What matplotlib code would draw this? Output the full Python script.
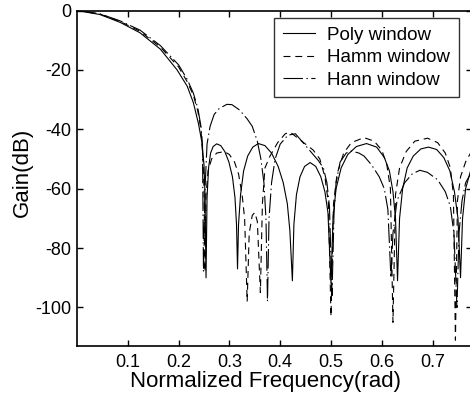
import matplotlib
matplotlib.use("Agg")
import matplotlib.pyplot as plt

plt.rcParams['font.family'] = ['Liberation Sans', 'DejaVu Sans']
plt.rcParams['lines.scale_dashes'] = False

# Frequency response of the three windowed filters, magnitude in dB
poly_x = [0, 0.045, 0.085, 0.124, 0.164, 0.197, 0.217, 0.229, 0.239, 0.246, 0.25, 0.252, 0.254,
          0.256, 0.259, 0.263, 0.268, 0.275, 0.283, 0.291, 0.299, 0.306, 0.311, 0.314, 0.316,
          0.318, 0.322, 0.328, 0.336, 0.346, 0.357, 0.370, 0.383, 0.396, 0.406, 0.414, 0.419, 0.424,
          0.427, 0.432, 0.439, 0.448, 0.459, 0.470, 0.480, 0.488, 0.494, 0.500,
          0.504, 0.510, 0.520, 0.533, 0.550, 0.570, 0.590, 0.605, 0.615, 0.622, 0.627, 0.631,
          0.635, 0.641, 0.650, 0.662, 0.677, 0.692, 0.708, 0.722, 0.734, 0.743, 0.750, 0.755,
          0.759, 0.765, 0.778]
poly_db = [0, -1.35, -4, -7.5, -13, -20, -25.5, -31, -38, -44.5, -52, -62, -90,
           -63, -53, -48, -45.8, -44.9, -45.5, -47.5, -51, -56, -63, -72, -87,
           -72, -62, -54, -49, -46, -44.8, -45.5, -48, -52.5, -58, -65, -74, -91,
           -72, -62, -56, -52.5, -51.2, -52.5, -56, -61, -68, -92,
           -70, -60, -53, -48.5, -45.8, -44.8, -46, -49.5, -54, -61, -70, -91,
           -70, -60, -53, -49, -46.6, -46, -46.8, -49.5, -54, -61, -70, -90,
           -70, -60, -52]

hamm_x = [0, 0.045, 0.085, 0.124, 0.164, 0.2, 0.217, 0.229, 0.238, 0.244, 0.248, 0.250, 0.252,
          0.254, 0.258, 0.265, 0.275, 0.29, 0.30, 0.31, 0.318, 0.325, 0.33, 0.335,
          0.339, 0.345, 0.35, 0.355, 0.361,
          0.365, 0.37, 0.38, 0.395, 0.41, 0.42, 0.435, 0.45, 0.465, 0.478, 0.488, 0.495, 0.500,
          0.505, 0.512, 0.525, 0.54, 0.565, 0.585, 0.60, 0.61, 0.617, 0.622,
          0.627, 0.635, 0.648, 0.665, 0.69, 0.71, 0.725, 0.735, 0.741, 0.745,
          0.749, 0.755, 0.765, 0.778]
hamm_db = [0, -1.2, -3.7, -7, -12.3, -19, -24, -28.5, -34, -40, -50, -60, -88,
           -62, -54, -50, -48, -47.5, -48.5, -51, -55, -62, -70, -98,
           -75, -69, -68, -71, -95,
           -65, -53, -49, -44.5, -41.5, -41, -43, -45, -47, -50, -56, -65, -103,
           -65, -55, -48, -44.5, -42.8, -44, -47, -52, -60, -105,
           -62, -53, -47.5, -44, -43, -44.5, -48, -53, -62, -111,
           -64, -56, -51, -47]

hann_x = [0, 0.045, 0.085, 0.124, 0.164, 0.2, 0.217, 0.229, 0.238, 0.244, 0.247, 0.249,
          0.252, 0.256, 0.262, 0.27, 0.28, 0.295, 0.305, 0.32, 0.335, 0.345, 0.355, 0.362, 0.368, 0.372, 0.375,
          0.378, 0.383, 0.39, 0.40, 0.415, 0.43, 0.445, 0.46, 0.475, 0.485, 0.492, 0.497, 0.502,
          0.506, 0.51, 0.518, 0.53, 0.54, 0.555, 0.565, 0.58, 0.595, 0.605, 0.612, 0.618,
          0.622, 0.63, 0.645, 0.66, 0.675, 0.69, 0.71, 0.725, 0.735, 0.742, 0.748,
          0.752, 0.758, 0.765, 0.778]
hann_db = [0, -1.1, -3.5, -6.6, -11.8, -18.3, -23.2, -27.8, -33, -39, -45, -88,
           -60, -45, -39, -35, -33, -31.6, -31.7, -33.5, -36.5, -39, -44, -50, -58, -70, -98,
           -70, -58, -50, -45, -42, -41.5, -44.5, -47.5, -50.5, -53, -58, -66, -96,
           -68, -58, -51, -48, -47.3, -48, -49, -52, -56, -60, -67, -90,
           -75, -64, -58, -55, -53.8, -54.5, -57, -61, -66, -75, -100,
           -75, -64, -58, -54]

labels = ['Poly window', 'Hamm window', 'Hann window']
xticks = [0.1, 0.2, 0.3, 0.4, 0.5, 0.6, 0.7]
yticks = [0, -20, -40, -60, -80, -100]

W, H = 470, 399
fig = plt.figure(figsize=(W / 100, H / 100), dpi=100)
ax = fig.add_axes([77 / W, 53.5 / H, 395 / W, 335 / H])

ax.plot(poly_x, poly_db, color='black', lw=0.8, label=labels[0])
ax.plot(hamm_x, hamm_db, color='black', lw=0.8, dashes=(5, 3.5), label=labels[1])
ax.plot(hann_x, hann_db, color='black', lw=0.8, dashes=(14, 2.5, 1, 2.5), label=labels[2])

ax.set_xlim(0, 0.7776)
ax.set_ylim(-112.8, 0)
ax.set_xticks(xticks)
ax.set_xticklabels([f'{t:g}' for t in xticks])
ax.set_yticks(yticks)
ax.set_yticklabels([f'{t:g}' for t in yticks])
ax.tick_params(direction='in', top=True, right=True, length=4, width=1,
               labelsize=13, pad=4)
ax.tick_params(axis='x', pad=6)
for s in ax.spines.values():
    s.set_linewidth(1.2)

ax.set_xlabel('Normalized Frequency(rad)', fontsize=16)
ax.xaxis.set_label_coords(0.478, -0.075)
ax.set_ylabel('Gain(dB)', fontsize=16)
ax.yaxis.set_label_coords(-0.111, 0.518)

leg = ax.legend(loc='upper right', bbox_to_anchor=(0.966, 0.9767),
                fontsize=13.5, frameon=True, fancybox=False, handlelength=1.7,
                handletextpad=0.68, borderpad=0.45, labelspacing=0.28, borderaxespad=0)
leg.get_frame().set_edgecolor('black')
leg.get_frame().set_linewidth(1.0)

fig.savefig('out.png', dpi=100)
